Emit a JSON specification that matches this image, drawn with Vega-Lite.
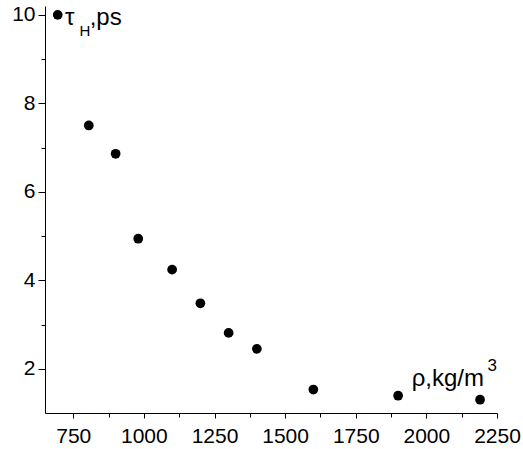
{
  "$schema": "https://vega.github.io/schema/vega-lite/v6.json",
  "width": 452,
  "height": 407,
  "autosize": {"type": "none"},
  "padding": {"left": 45, "top": 6, "right": 26, "bottom": 36},
  "background": "white",
  "config": {
    "view": {"stroke": null},
    "font": "Liberation Sans",
    "axis": {"grid": false, "domainColor": "black", "tickColor": "black", "labelColor": "black", "labelFont": "Liberation Sans", "labelFontSize": 21, "domainWidth": 1, "tickWidth": 1, "title": null, "labelFlush": false, "labelOverlap": false}
  },
  "datasets": {
    "pts": [
      {"rho": 695, "tau": 10.0},
      {"rho": 805, "tau": 7.5},
      {"rho": 900, "tau": 6.86},
      {"rho": 980, "tau": 4.94},
      {"rho": 1100, "tau": 4.24},
      {"rho": 1200, "tau": 3.48},
      {"rho": 1300, "tau": 2.81},
      {"rho": 1400, "tau": 2.45},
      {"rho": 1600, "tau": 1.53},
      {"rho": 1900, "tau": 1.39},
      {"rho": 2190, "tau": 1.30}
    ],
    "big": [
      {"rho": 721, "tau": 9.78, "txt": "τ"},
      {"rho": 808, "tau": 9.78, "txt": ",ps"},
      {"rho": 1948, "tau": 1.61, "txt": "ρ,kg/m"}
    ],
    "sub": [
      {"rho": 772, "tau": 9.52, "txt": "H"}
    ],
    "sup": [
      {"rho": 2216, "tau": 1.95, "txt": "3"}
    ]
  },
  "layer": [
    {
      "data": {"name": "pts"},
      "mark": {"type": "point", "filled": true, "color": "black", "opacity": 1, "size": 95},
      "encoding": {
        "x": {"field": "rho", "type": "quantitative", "scale": {"domain": [650, 2250], "nice": false, "zero": false},
          "axis": {"orient": "bottom", "values": [750, 1000, 1250, 1500, 1750, 2000, 2250], "tickSize": 5, "labelPadding": 7, "format": "d"}},
        "y": {"field": "tau", "type": "quantitative", "scale": {"domain": [1, 10.2], "nice": false, "zero": false},
          "axis": {"orient": "left", "values": [2, 4, 6, 8, 10], "tickSize": 7, "labelPadding": 3, "format": "d"}}
      }
    },
    {
      "data": {"name": "pts"},
      "mark": {"type": "point", "opacity": 0},
      "encoding": {
        "x": {"field": "rho", "type": "quantitative",
          "axis": {"orient": "bottom", "values": [875, 1125, 1375, 1625, 1875, 2125], "tickSize": 4, "labels": false, "domain": false}},
        "y": {"field": "tau", "type": "quantitative",
          "axis": {"orient": "left", "values": [3, 5, 7, 9], "tickSize": 4, "labels": false, "domain": false}}
      }
    },
    {
      "data": {"name": "big"},
      "mark": {"type": "text", "align": "left", "baseline": "alphabetic", "color": "black", "font": "Liberation Sans", "fontSize": 24},
      "encoding": {
        "x": {"field": "rho", "type": "quantitative", "axis": null},
        "y": {"field": "tau", "type": "quantitative", "axis": null},
        "text": {"field": "txt"}
      }
    },
    {
      "data": {"name": "sub"},
      "mark": {"type": "text", "align": "left", "baseline": "alphabetic", "color": "black", "font": "Liberation Sans", "fontSize": 15},
      "encoding": {
        "x": {"field": "rho", "type": "quantitative", "axis": null},
        "y": {"field": "tau", "type": "quantitative", "axis": null},
        "text": {"field": "txt"}
      }
    },
    {
      "data": {"name": "sup"},
      "mark": {"type": "text", "align": "left", "baseline": "alphabetic", "color": "black", "font": "Liberation Sans", "fontSize": 17},
      "encoding": {
        "x": {"field": "rho", "type": "quantitative", "axis": null},
        "y": {"field": "tau", "type": "quantitative", "axis": null},
        "text": {"field": "txt"}
      }
    }
  ],
  "resolve": {"axis": {"x": "independent", "y": "independent"}}
}
